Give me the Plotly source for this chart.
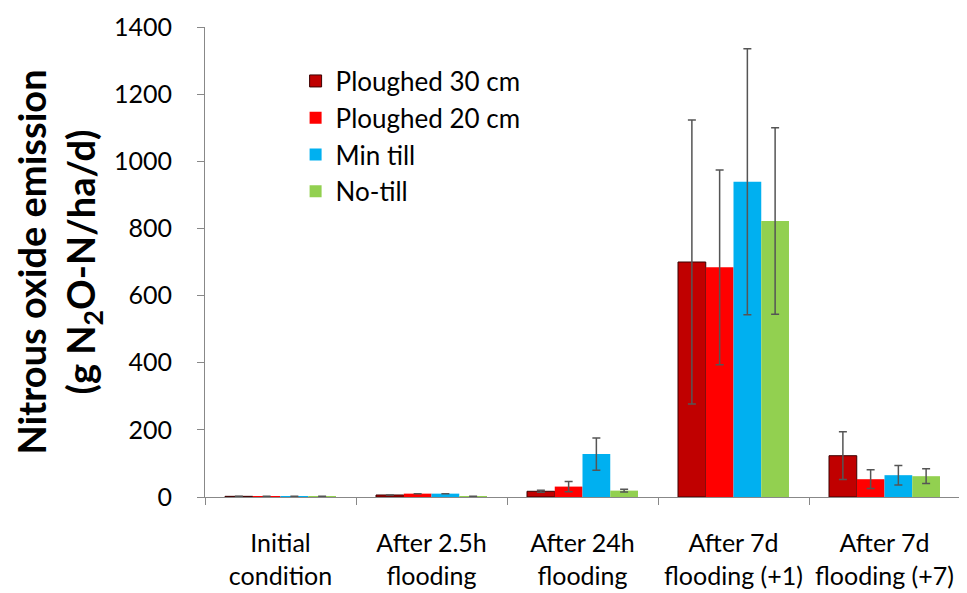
import plotly.graph_objects as go

categories = ["Initial<br>condition", "After 2.5h<br>flooding", "After 24h<br>flooding",
              "After 7d<br>flooding (+1)", "After 7d<br>flooding (+7)"]
series_names = ["Ploughed 30 cm", "Ploughed 20 cm", "Min till", "No-till"]
ploughed30 = [2, 6, 17, 700, 123]
ploughed30_err = [None, None, 3, 423, 71]
ploughed20 = [2, 10, 31, 684, 53]
ploughed20_err = [None, None, 15, 290, 28]
mintill = [2, 10, 128, 939, 65]
mintill_err = [None, None, 48, 396, 29]
notill = [2, 2, 19, 822, 62]
notill_err = [None, None, 4, 278, 22]
colors = ["#C00000", "#FF0000", "#00B0F0", "#92D050"]
y_ticks = [0, 200, 400, 600, 800, 1000, 1200, 1400]

values = [ploughed30, ploughed20, mintill, notill]
errors = [ploughed30_err, ploughed20_err, mintill_err, notill_err]

FONT = "Lato, Open Sans, sans-serif"
fig = go.Figure()
for i, name in enumerate(series_names):
    fig.add_trace(go.Bar(
        name=name, x=categories, y=values[i],
        marker=dict(color=colors[i],
                    line=dict(color="#3a0000" if i == 0 else colors[i], width=1 if i == 0 else 0)),
        error_y=dict(type="data", array=errors[i], visible=True,
                     color="#555555", thickness=1.5, width=4),
    ))

fig.update_layout(
    width=959, height=585,
    margin=dict(l=197, r=7, t=19, b=96),
    paper_bgcolor="white", plot_bgcolor="white",
    barmode="group", bargap=0.265, bargroupgap=0,
    font=dict(family=FONT, size=22, color="black"),
    showlegend=True,
    legend=dict(x=0.12, y=0.935, xanchor="left", yanchor="top",
                font=dict(family=FONT, size=26, color="black"),
                bgcolor="rgba(0,0,0,0)", tracegroupgap=0, itemwidth=30),
    xaxis=dict(showline=True, linecolor="#888888", linewidth=1,
               ticks="outside", tickson="boundaries", ticklen=7, tickcolor="#888888",
               tickfont=dict(family=FONT, size=25), showgrid=False,
               tickangle=0, automargin=False, ticklabelstandoff=24),
    yaxis=dict(range=[0, 1400], tickvals=y_ticks, showline=True, linecolor="#888888",
               linewidth=1, ticks="outside", ticklen=7, tickcolor="#888888",
               showgrid=False, zeroline=False, ticklabelstandoff=20, automargin=False,
               tickfont=dict(family=FONT, size=25),
               title=dict(text="<b>Nitrous oxide emission<br>(g N<sub>2</sub>O-N/ha/d)</b>",
                          font=dict(family=FONT, size=38), standoff=12)),
)

fig.write_html("out.html")
